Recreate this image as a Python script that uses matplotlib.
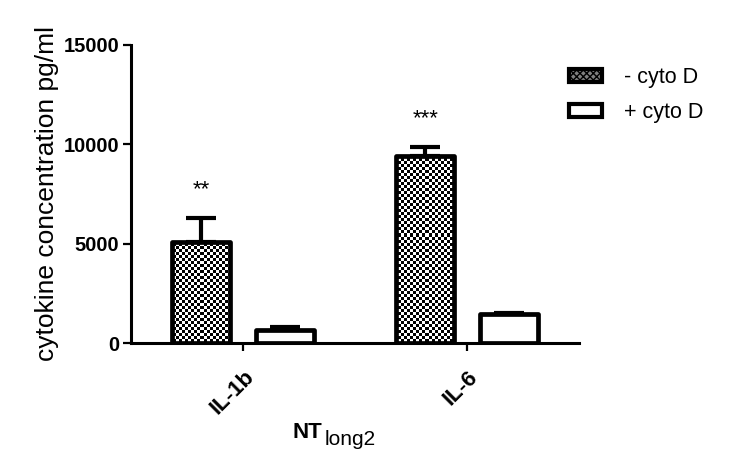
import numpy as np
import matplotlib
matplotlib.use("Agg")
import matplotlib.pyplot as plt
from matplotlib.patches import Patch

plt.rcParams['font.family'] = ['Liberation Sans', 'DejaVu Sans']

categories = ['IL-1b', 'IL-6']
minus_cyto = [5060, 9420]
minus_err = [1210, 440]
plus_cyto = [640, 1460]
plus_err = [180, 60]
stars = ['**', '***']
series_labels = ['- cyto D', '+ cyto D']
yticks = [0, 5000, 10000, 15000]

fig = plt.figure(figsize=(7.37, 4.76), dpi=100)
ax = fig.add_axes([0.178, 0.2794, 0.608, 0.6261])
ax.set_xlim(-0.5, 1.5)
ax.set_ylim(0, 15000)

x = np.arange(len(categories))
off = 0.1875
w = 0.26

bars_m = ax.bar(x - off, minus_cyto, w, facecolor='none', edgecolor='black',
                linewidth=3.4, joinstyle='round', zorder=3)
bars_p = ax.bar(x + off, plus_cyto, w, facecolor='white', edgecolor='black',
                linewidth=3.4, joinstyle='round', zorder=3)

ax.errorbar(x - off, minus_cyto, yerr=[np.zeros(len(x)), minus_err], fmt='none',
            ecolor='black', elinewidth=3.0, capsize=11, capthick=3.0, zorder=2)
ax.errorbar(x + off, plus_cyto, yerr=[np.zeros(len(x)), plus_err], fmt='none',
            ecolor='black', elinewidth=3.0, capsize=11, capthick=3.0, zorder=2)

# checkerboard fill for the "- cyto D" bars
fig.canvas.draw()
bb = ax.get_window_extent()
W, H = int(round(bb.width)), int(round(bb.height))
yy, xx = np.mgrid[0:H, 0:W]
checker = (((xx // 3) + (yy // 3)) % 2).astype(float)
for b in bars_m:
    im = ax.imshow(checker, extent=(-0.5, 1.5, 0, 15000), aspect='auto',
                   interpolation='nearest', cmap='gray', vmin=0, vmax=1, zorder=1)
    im.set_clip_path(b)

for xi, m, e, s in zip(x - off, minus_cyto, minus_err, stars):
    ax.text(xi, m + e + 1450, s, ha='center', va='center', fontsize=16)

ax.spines['top'].set_visible(False)
ax.spines['right'].set_visible(False)
ax.spines['left'].set_linewidth(2.2)
ax.spines['bottom'].set_linewidth(2.2)

ax.set_yticks(yticks)
ax.set_yticklabels([str(v) for v in yticks], fontsize=14.5, fontweight='bold')
ax.set_xticks(x)
ax.set_xticklabels(categories, fontsize=16, fontweight='bold', rotation=45,
                   ha='right', rotation_mode='anchor')
ax.tick_params(axis='y', length=6, width=1.6, pad=2.5)
ax.tick_params(axis='x', length=6, width=1.6, pad=11)

ax.set_ylabel('cytokine concentration pg/ml', fontsize=19, labelpad=3)

# x-axis title: NT with subscript "long2"
fig.text(293 / 737, 1 - 438 / 476, 'NT', fontsize=16, fontweight='bold',
         ha='left', va='baseline')
fig.text(325 / 737, 1 - 445 / 476, 'long2', fontsize=15, ha='left', va='baseline')

h1 = Patch(facecolor='#808080', edgecolor='black', linewidth=3, hatch='xxxxx')
h2 = Patch(facecolor='white', edgecolor='black', linewidth=3)
fig.legend([h1, h2], series_labels, loc='upper left', bbox_to_anchor=(0.7455, 0.90),
           frameon=False, fontsize=15.5, handlelength=1.55, handleheight=0.6,
           labelspacing=0.65, handletextpad=1.0)

fig.savefig('out.png', dpi=100)
